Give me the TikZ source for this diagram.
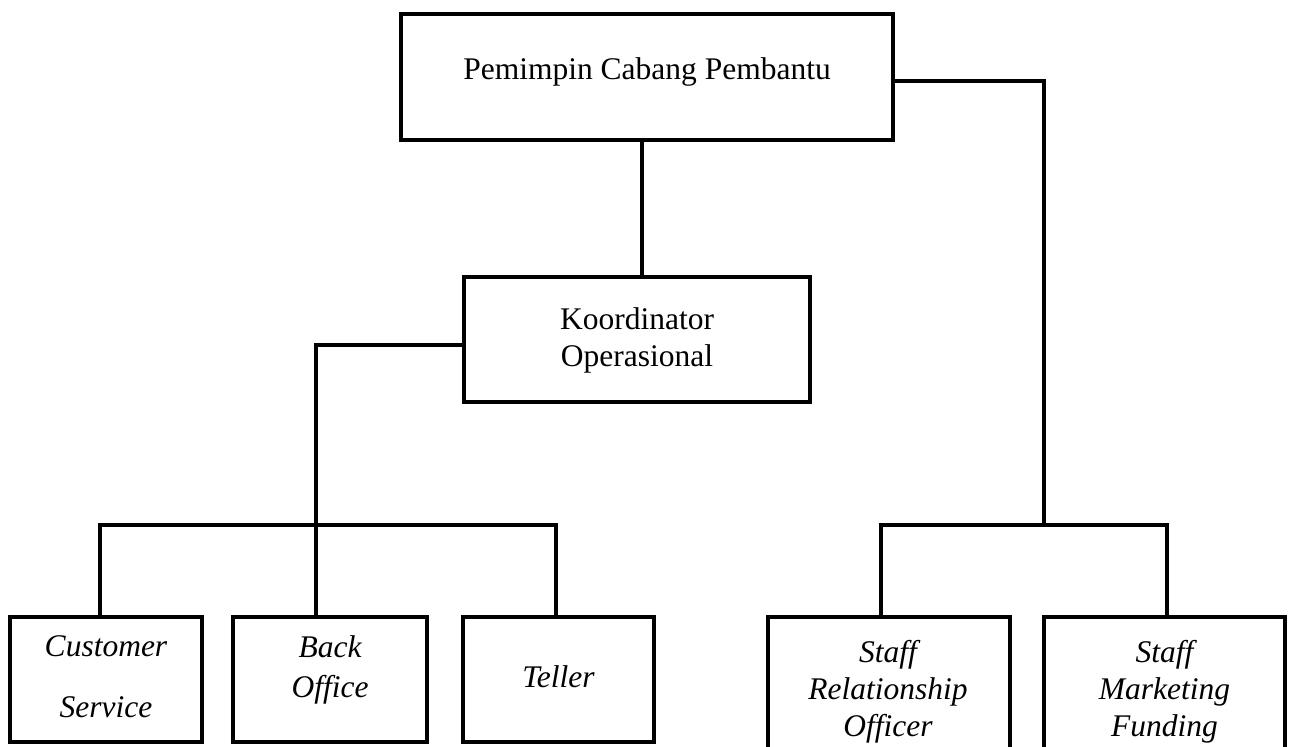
\documentclass[tikz,border=0pt]{standalone}
\usepackage{fontspec}
\setmainfont{Liberation Serif}
\begin{document}
\begin{tikzpicture}[x=1pt,y=-1pt,
  box/.style={draw,line width=4pt,inner sep=0pt},
  lbl/.style={font=\fontsize{31.5}{37}\selectfont,inner sep=0pt,align=center},
  conn/.style={line width=4pt}]
\path[use as bounding box,fill=white] (0,0) rectangle (1291,747);
% boxes
\node[box,minimum width=492pt,minimum height=126pt] (top) at (647,77) {};
\node[box,minimum width=346pt,minimum height=125pt] (koord) at (637,339.5) {};
\node[box,minimum width=192pt,minimum height=125pt] (cs) at (106,679.5) {};
\node[box,minimum width=194pt,minimum height=125pt] (bo) at (330,679.5) {};
\node[box,minimum width=191pt,minimum height=125pt] (tel) at (558.5,679.5) {};
\node[box,minimum width=242pt,minimum height=173pt] (ro) at (889,703.5) {};
\node[box,minimum width=241pt,minimum height=173pt] (mf) at (1164.5,703.5) {};
% texts
\node[lbl,anchor=base] (topT) at (647,79) {Pemimpin Cabang Pembantu};
\node[lbl] (koT) at (637,340.6) {Koordinator\\Operasional};
\node[lbl] (csT) at (106,677) {\itshape Customer\\[24pt]\itshape Service};
\node[lbl] (boT) at (330,670) {\itshape Back\\[3pt]\itshape Office};
\node[lbl,anchor=base] (telT) at (558.5,687) {\itshape Teller};
\node[lbl] (roT) at (888,692) {\itshape Staff\\\itshape Relationship\\\itshape Officer};
\node[lbl] (mfT) at (1164.5,692) {\itshape Staff\\\itshape Marketing\\\itshape Funding};
% bus points
\coordinate (lbus) at (316,525);
\coordinate (rbus) at (1044,525);
% connectors
\draw[conn] (top.south -| 642,0) -- (koord.north -| 642,0);
\draw[conn] ([yshift=-4pt]top.east) -| (rbus);
\draw[conn] ([xshift=-8pt]ro.north) |- (rbus) -| ([xshift=2pt]mf.north);
\draw[conn] ([yshift=-5pt]koord.west) -| ([xshift=-14pt]bo.north);
\draw[conn] ([xshift=-6pt]cs.north) |- (lbus) -| ([xshift=-3pt]tel.north);
\end{tikzpicture}
\end{document}
